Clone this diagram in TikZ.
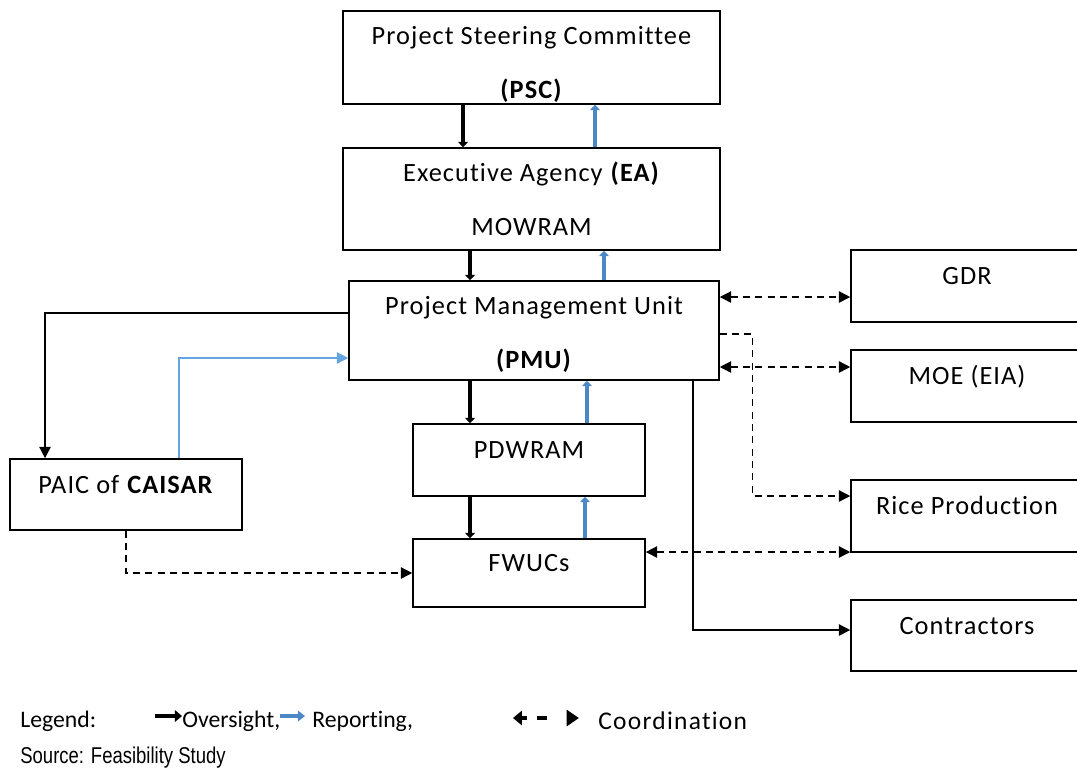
\documentclass[tikz,border=0pt]{standalone}
\usepackage{fontspec}
\setmainfont{Carlito}[Ligatures=NoCommon]
\newfontfamily\boxfont{Carlito}[LetterSpace=4, Ligatures=NoCommon]
\newfontfamily\coofont{Carlito}[LetterSpace=5, Ligatures=NoCommon]
\newfontfamily\srcfont[FakeStretch=0.81]{Liberation Sans}
\definecolor{repblue}{RGB}{76, 136, 198}
\definecolor{linkblue}{RGB}{100, 165, 225}
\usepackage{tikz}
\usetikzlibrary{arrows.meta, positioning, calc}

\begin{document}
\begin{tikzpicture}[x=0.02cm, y=-0.02cm,
    box/.style={draw, line width=0.9pt, align=center, inner sep=0pt,
                font=\boxfont\fontsize{15}{18}\selectfont},
    onebox/.style={box, text height=10pt, text depth=11.7pt},
    oversight/.style={line width=2.4pt, -{Triangle[length=3pt,width=5.5pt]}},
    report/.style={oversight, draw=repblue},
    linkblack/.style={line width=0.8pt, -{Triangle[length=6.5pt,width=6.5pt]}},
    linkblue/.style={linkblack, color=linkblue},
    coord/.style={line width=0.8pt, dash pattern=on 4pt off 3pt,
                  {Triangle[length=6.5pt,width=6.5pt]}-{Triangle[length=6.5pt,width=6.5pt]}},
    legtext/.style={anchor=west, inner sep=0pt, font=\fontsize{13.5}{16}\selectfont}]
    \useasboundingbox (0,0) rectangle (1077,772);
    % main chain
    \node[box, text height=49pt, minimum width=7.54cm, minimum height=1.86cm] (psc) at (531.5,57.5)
      {Project Steering Committee\\[13pt]\textbf{(PSC)}};
    \node[box, minimum width=7.54cm, minimum height=2.04cm] (ea) at (531.5,199)
      {Executive Agency \textbf{(EA)}\\[13pt]MOWRAM};
    \node[box, text height=46pt, minimum width=7.4cm, minimum height=1.98cm] (pmu) at (534,330.5)
      {Project Management Unit\\[13pt]\textbf{(PMU)}};
    \node[onebox, minimum width=4.64cm, minimum height=1.44cm] (pdwram) at (529,460) {PDWRAM};
    \node[onebox, minimum width=4.64cm, minimum height=1.36cm] (fwucs) at (529,573) {FWUCs};
    \node[onebox, minimum width=4.64cm, minimum height=1.42cm] (paic) at (126,494.5)
      {PAIC of \textbf{CAISAR}};
    % partners on the right
    \node[onebox, minimum width=4.64cm, minimum height=1.44cm] (gdr) at (967,286) {GDR};
    \node[onebox, minimum width=4.64cm, minimum height=1.44cm] (moe) at (967,386) {MOE (EIA)};
    \node[onebox, minimum width=4.64cm, minimum height=1.44cm] (rice) at (967,516) {Rice Production};
    \node[onebox, minimum width=4.64cm, minimum height=1.42cm] (contr) at (967,635.5) {Contractors};

    \draw[oversight] ([xshift=-1.37cm]psc.south) -- ([xshift=-1.37cm]psc.south |- ea.north);
    \draw[report] ([xshift=1.27cm]ea.north) -- ([xshift=1.27cm]ea.north |- psc.south);
    \draw[oversight] ([xshift=-1.23cm]ea.south) -- ([xshift=-1.23cm]ea.south |- pmu.north);
    \draw[report] ([xshift=1.4cm]pmu.north) -- ([xshift=1.4cm]pmu.north |- ea.south);
    \draw[oversight] ([xshift=-1.28cm]pmu.south) -- ([xshift=-1.28cm]pmu.south |- pdwram.north);
    \draw[report] ([xshift=1.16cm]pdwram.north) -- ([xshift=1.16cm]pdwram.north |- pmu.south);
    \draw[oversight] ([xshift=-1.18cm]pdwram.south) -- ([xshift=-1.18cm]pdwram.south |- fwucs.north);
    \draw[report] ([xshift=1.12cm]fwucs.north) -- ([xshift=1.12cm]fwucs.north |- pdwram.south);

    \draw[linkblack] ([yshift=0.35cm]pmu.west) -| ([xshift=-1.62cm]paic.north);
    \draw[linkblue] ([xshift=1.06cm]paic.north) |- ([yshift=-0.55cm]pmu.west);
    \draw[coord, -{Triangle[length=6.5pt,width=6.5pt]}] (paic.south) |- (fwucs.west);
    \draw[coord] ([yshift=0.67cm]pmu.east) -- ([yshift=0.67cm]pmu.east -| gdr.west);
    \draw[coord] ([yshift=-0.73cm]pmu.east) -- ([yshift=-0.73cm]pmu.east -| moe.west);
    \draw[coord, -{Triangle[length=6.5pt,width=6.5pt]}] ([yshift=-0.07cm]pmu.east) -- ++(0.66cm,0)
      |- ([yshift=0.4cm]rice.west);
    \draw[coord] ([yshift=0.42cm]fwucs.east) -- ([yshift=0.42cm]fwucs.east -| rice.west);
    \draw[linkblack] ([xshift=3.18cm]pmu.south) |- ([yshift=0.11cm]contr.west);

    % legend
    \node[legtext] (leg) at (20,721) {Legend:};
    \node[legtext] (over) at (182,721) {Oversight,};
    \node[legtext] (rep) at (312,721) {Reporting,};
    \node[legtext, font=\coofont\fontsize{14.5}{17}\selectfont] (coo) at (598,721) {Coordination};
    \coordinate (overtail) at (155,716);
    \coordinate (reptail) at (280,716);
    \coordinate (cootail) at (513,718);
    \coordinate (coohead) at (579,718);
    \draw[oversight, -{Triangle[length=4pt,width=6.5pt]}] (overtail) -- (overtail -| over.west);
    \draw[report, line width=1.8pt, -{Triangle[length=4pt,width=6pt]}] (reptail) -- ++(25,0);
    \draw[line width=1.8pt, dash pattern=on 3pt off 6pt on 5.5pt off 20pt,
          {Triangle[length=5pt,width=8pt]}-{Triangle[length=7pt,width=9pt]}] (cootail) -- (coohead);
    \node[anchor=west, inner sep=0pt, font=\srcfont\fontsize{13}{15}\selectfont] (src) at (20,758)
      {Source: Feasibility Study};
\end{tikzpicture}
\end{document}
